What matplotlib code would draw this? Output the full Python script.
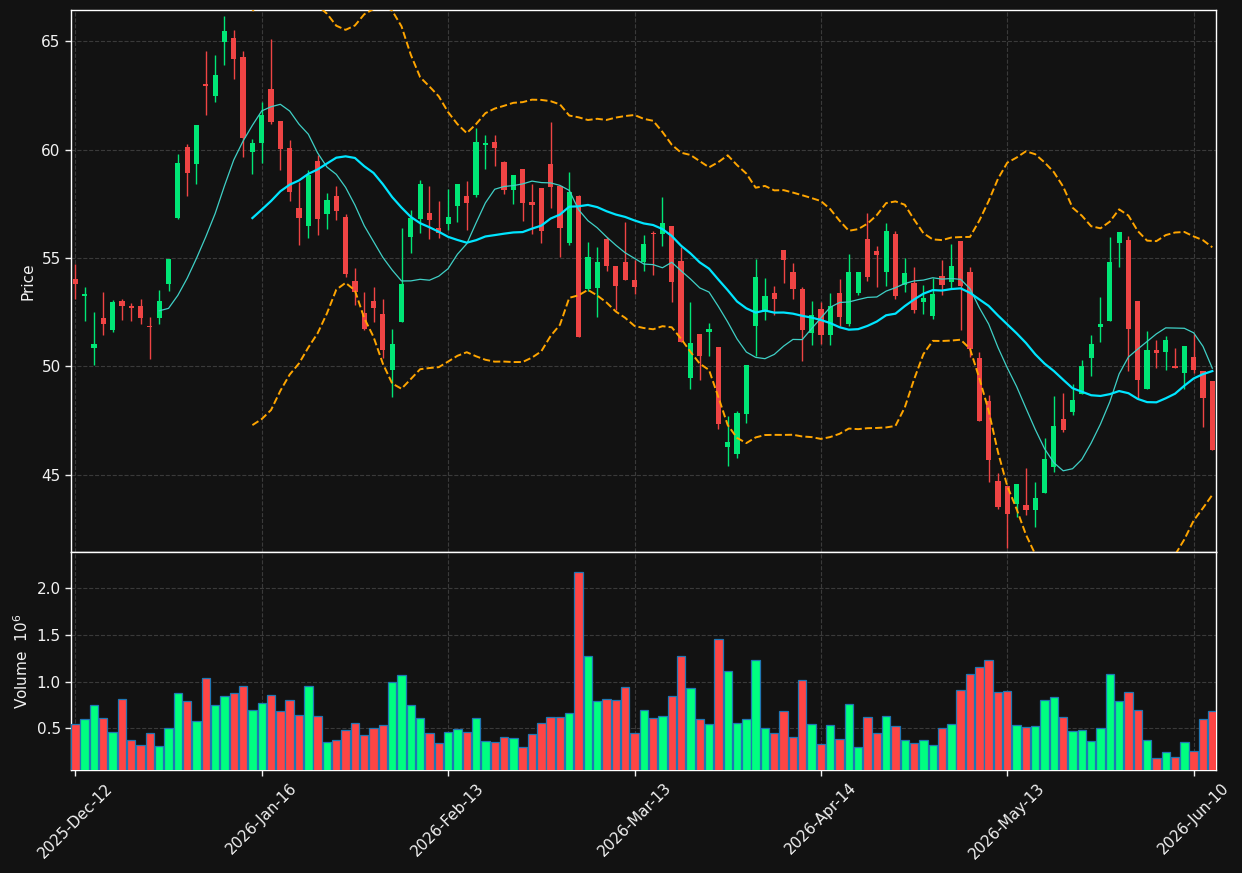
import numpy as np
import pandas as pd
import matplotlib
matplotlib.use("Agg")
import matplotlib.pyplot as plt

# ---- data ----
opens = [54.04, 53.27, 50.84, 52.25, 51.67, 53.03, 52.81, 52.80, 51.88, 52.22,
         53.78, 56.85, 60.14, 59.33, 63.00, 62.45, 64.97, 65.14, 64.27, 59.88,
         60.31, 62.79, 61.33, 60.06, 57.30, 56.49, 59.46, 57.04, 57.85, 56.89,
         53.94, 52.47, 53.02, 52.44, 49.82, 52.06, 55.98, 56.79, 57.06, 56.38,
         56.56, 57.39, 57.84, 57.89, 60.22, 60.34, 59.43, 58.12, 59.09, 57.56,
         58.21, 59.34, 58.32, 55.68, 57.84, 53.56, 53.60, 55.86, 54.65, 54.83,
         54.00, 54.83, 56.17, 56.09, 56.49, 54.88, 49.46, 51.50, 51.58, 50.92,
         46.29, 45.97, 47.81, 51.86, 52.50, 53.40, 55.38, 54.37, 53.59, 51.53,
         52.66, 51.43, 53.38, 51.98, 53.37, 55.89, 55.34, 54.34, 56.12, 53.77,
         53.86, 52.98, 52.34, 54.18, 53.88, 55.78, 54.37, 50.40, 48.42, 44.72,
         44.50, 43.65, 43.60, 43.37, 44.18, 45.38, 47.58, 47.88, 48.71, 50.37,
         51.80, 52.08, 55.68, 55.85, 53.03, 48.98, 50.77, 50.65, 50.00, 49.68,
         50.45, 49.80, 49.34]
highs = [54.74, 53.68, 52.49, 53.42, 53.07, 53.10, 52.92, 53.10, 52.29, 53.53,
         54.95, 59.80, 60.26, 61.15, 64.53, 64.34, 66.15, 65.49, 64.53, 60.49,
         62.20, 65.08, 61.33, 60.46, 58.51, 59.08, 59.77, 57.98, 58.31, 57.01,
         54.56, 53.42, 53.65, 53.10, 51.72, 56.37, 57.21, 58.59, 58.34, 57.62,
         58.19, 58.40, 58.55, 60.97, 60.66, 60.66, 59.48, 58.81, 59.09, 58.43,
         58.21, 61.25, 58.32, 58.98, 57.89, 55.76, 55.52, 55.96, 54.65, 56.65,
         54.92, 56.06, 56.26, 57.82, 56.49, 55.49, 52.98, 51.50, 52.01, 50.92,
         47.71, 47.96, 50.05, 54.95, 54.08, 53.71, 55.38, 54.77, 53.66, 53.02,
         52.95, 53.37, 54.02, 55.18, 54.37, 57.08, 55.54, 56.62, 56.26, 54.98,
         54.58, 53.74, 54.06, 54.91, 55.65, 55.78, 54.57, 50.69, 48.68, 45.11,
         44.50, 44.57, 45.31, 44.66, 46.69, 48.63, 48.77, 49.18, 50.31, 51.45,
         53.20, 55.98, 56.22, 56.00, 53.03, 51.63, 51.23, 51.40, 50.85, 50.94,
         51.49, 49.80, 49.34]
lows = [53.10, 52.08, 50.08, 51.45, 51.57, 52.16, 52.09, 51.96, 50.35, 51.96,
        53.46, 56.80, 57.87, 58.43, 61.59, 62.19, 63.88, 63.24, 59.66, 58.88,
        59.39, 61.20, 59.05, 57.64, 55.58, 55.90, 56.04, 56.32, 56.75, 54.14,
        52.84, 51.70, 52.07, 50.38, 48.59, 52.06, 55.21, 56.17, 55.86, 55.90,
        56.27, 56.68, 56.31, 57.81, 59.12, 59.26, 57.96, 57.50, 56.71, 56.11,
        55.69, 57.31, 55.03, 55.60, 51.37, 53.49, 52.28, 54.38, 52.59, 53.97,
        53.34, 54.40, 54.22, 55.55, 52.99, 51.12, 48.97, 49.39, 50.49, 47.12,
        45.43, 45.80, 47.41, 50.48, 52.15, 52.38, 53.85, 53.10, 50.26, 50.97,
        51.03, 50.98, 51.88, 51.86, 53.29, 53.95, 53.66, 53.72, 53.09, 53.42,
        52.46, 52.42, 52.18, 53.28, 53.62, 51.68, 50.42, 47.51, 44.68, 43.42,
        41.65, 43.06, 43.14, 42.60, 44.18, 45.15, 47.00, 47.75, 48.71, 49.54,
        51.15, 52.08, 54.57, 49.77, 48.57, 48.98, 49.95, 49.83, 49.94, 48.95,
        49.72, 47.23, 46.17]
closes = [53.82, 53.35, 51.06, 51.94, 52.98, 52.77, 52.68, 52.22, 51.82, 53.03,
          54.95, 59.36, 58.91, 61.15, 62.91, 63.44, 65.46, 64.19, 60.52, 60.28,
          61.59, 61.28, 60.03, 58.05, 56.86, 58.82, 56.81, 57.67, 57.18, 54.28,
          53.45, 51.75, 52.71, 50.74, 51.04, 53.80, 56.84, 58.40, 56.76, 56.15,
          56.91, 58.40, 57.53, 60.34, 60.29, 60.08, 58.12, 58.81, 57.53, 57.44,
          56.23, 58.26, 56.37, 58.04, 51.37, 55.06, 54.83, 54.61, 53.69, 53.97,
          53.65, 55.64, 56.09, 56.61, 53.88, 51.12, 51.10, 50.48, 51.75, 47.35,
          46.50, 47.84, 50.05, 54.14, 53.27, 53.10, 54.92, 53.56, 51.67, 52.38,
          51.43, 52.78, 52.26, 54.37, 54.37, 54.11, 55.12, 56.26, 53.23, 54.32,
          52.62, 53.17, 53.34, 53.74, 54.65, 53.72, 50.80, 47.51, 45.71, 43.54,
          43.20, 44.57, 43.37, 43.94, 45.74, 47.26, 47.09, 48.46, 50.03, 51.05,
          51.95, 54.83, 56.22, 51.75, 49.38, 50.77, 50.60, 51.23, 49.94, 50.94,
          49.86, 48.57, 46.17]
volumes_m = [0.543, 0.597, 0.748, 0.608, 0.457, 0.813, 0.370, 0.317, 0.446, 0.306,
             0.500, 0.878, 0.791, 0.576, 1.040, 0.748, 0.845, 0.878, 0.953, 0.694,
             0.770, 0.856, 0.683, 0.802, 0.640, 0.953, 0.629, 0.349, 0.370, 0.478,
             0.554, 0.424, 0.500, 0.532, 1.000, 1.072, 0.748, 0.608, 0.446, 0.338,
             0.457, 0.489, 0.457, 0.608, 0.360, 0.349, 0.403, 0.392, 0.295, 0.435,
             0.554, 0.619, 0.619, 0.662, 2.173, 1.277, 0.791, 0.813, 0.802, 0.942,
             0.446, 0.694, 0.608, 0.629, 0.845, 1.277, 0.932, 0.597, 0.543, 1.460,
             1.115, 0.554, 0.597, 1.234, 0.500, 0.446, 0.683, 0.403, 1.018, 0.543,
             0.327, 0.532, 0.381, 0.759, 0.295, 0.619, 0.446, 0.629, 0.522, 0.370,
             0.338, 0.370, 0.317, 0.500, 0.543, 0.910, 1.083, 1.158, 1.234, 0.889,
             0.899, 0.532, 0.511, 0.522, 0.802, 0.835, 0.619, 0.468, 0.478, 0.360,
             0.500, 1.083, 0.791, 0.889, 0.694, 0.370, 0.176, 0.241, 0.187, 0.349,
             0.252, 0.597, 0.683]
tick_positions = [0, 20, 40, 60, 80, 100, 120]
tick_labels = ['2025-Dec-12', '2026-Jan-16', '2026-Feb-13', '2026-Mar-13',
               '2026-Apr-14', '2026-May-13', '2026-Jun-10']

# ---- styling ----
BG = '#121212'
UP = '#00e676'
DOWN = '#ef4444'
VUP = '#00ff80'
VDOWN = '#ff4545'
GRID = '#3a3a3a'
TXT = '#f2f2f2'

o = np.array(opens); h = np.array(highs); l = np.array(lows); c = np.array(closes)
v = np.array(volumes_m)
x = np.arange(len(c))
up = c >= o

fig = plt.figure(figsize=(12.42, 8.73), dpi=100, facecolor=BG)
ax = fig.add_axes([0.0572, 0.3677, 0.9219, 0.6208], facecolor=BG)
axv = fig.add_axes([0.0572, 0.1180, 0.9219, 0.2497], facecolor=BG, sharex=ax)

for a in (ax, axv):
    a.grid(True, color=GRID, linestyle='--', linewidth=0.8)
    a.set_axisbelow(True)
    for s in a.spines.values():
        s.set_color('white')
        s.set_linewidth(1.0)
    a.tick_params(colors=TXT, labelsize=11, length=4, width=1)

# candles
ccol = np.where(up, UP, DOWN)
ax.vlines(x, l, h, colors=ccol, linewidth=1.0, zorder=2)
body_bottom = np.minimum(o, c)
body_h = np.maximum(np.abs(c - o), 0.04)
ax.bar(x, body_h, bottom=body_bottom, width=0.56, color=ccol, linewidth=0, zorder=3)

# moving averages and bollinger bands
s = pd.Series(c)
ma10 = s.rolling(10).mean()
ma20 = s.rolling(20).mean()
sd20 = s.rolling(20).std(ddof=0)
ax.plot(x, ma10, color='#3fd0c6', linewidth=0.9, zorder=4)
ax.plot(x, ma20, color='#00e5ff', linewidth=1.6, zorder=4)
ax.plot(x, ma20 + 2 * sd20, color='#ffa500', linewidth=1.4, linestyle='--', zorder=4)
ax.plot(x, ma20 - 2 * sd20, color='#ffa500', linewidth=1.4, linestyle='--', zorder=4)

ax.set_ylim(41.45, 66.43)
ax.set_yticks([45, 50, 55, 60, 65])
ax.set_ylabel('Price', color=TXT, fontsize=11)
ax.tick_params(axis='x', labelbottom=False, length=0)

# volume
vcol = np.where(up, VUP, VDOWN)
axv.bar(x, v, width=0.9, color=vcol, edgecolor='#1f77b4', linewidth=0.9, zorder=3)
axv.set_ylim(0.3 * v.min(), 1.1 * v.max())
axv.set_yticks([0.5, 1.0, 1.5, 2.0])
axv.set_ylabel('Volume  $10^{6}$', color=TXT, fontsize=11)

axv.set_xlim(-0.46, 122.4)
axv.set_xticks(tick_positions)
axv.set_xticklabels(tick_labels, rotation=45, ha='center')

fig.savefig('out.png', dpi=100, facecolor=BG)
